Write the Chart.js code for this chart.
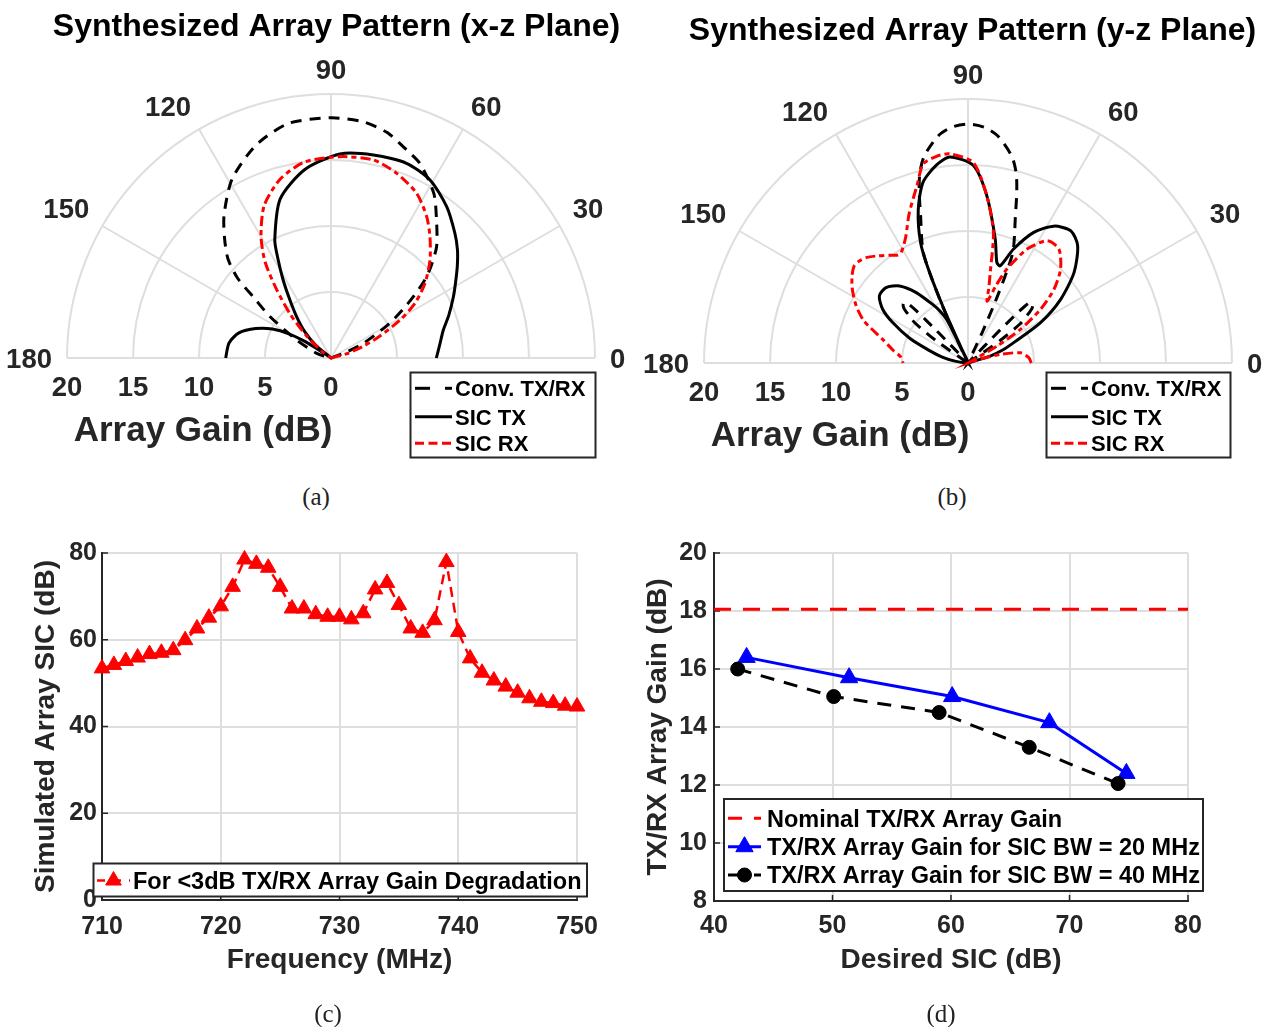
<!DOCTYPE html>
<html>
<head>
<meta charset="utf-8">
<script src="https://cdn.jsdelivr.net/npm/chart.js@4.4.1/dist/chart.umd.min.js"></script>
<style>
html,body{margin:0;padding:0;background:#fff;}
#wrap{position:relative;width:1265px;height:1027px;overflow:hidden;background:#fff;}
#wrap canvas{position:absolute;}
.cap{position:absolute;font-family:"Liberation Serif","Times New Roman",serif;font-size:25px;color:#222;transform:translate(-50%,-50%);line-height:1;}
</style>
</head>
<body>
<div id="wrap">
  <canvas id="chartA" width="632" height="470" style="left:0;top:0;width:632px;height:470px"></canvas>
  <canvas id="chartB" width="633" height="470" style="left:632px;top:0;width:633px;height:470px"></canvas>
  <canvas id="chartC" width="632" height="480" style="left:0;top:520px;width:632px;height:480px"></canvas>
  <canvas id="chartD" width="633" height="480" style="left:632px;top:520px;width:633px;height:480px"></canvas>
  <div class="cap" style="left:316px;top:496px">(a)</div>
  <div class="cap" style="left:952px;top:496px">(b)</div>
  <div class="cap" style="left:328px;top:1013px">(c)</div>
  <div class="cap" style="left:941px;top:1013px">(d)</div>
</div>
<script>
// ---------------- DATA ----------------
// Polar axes
const polarRings = [5, 10, 15, 20];
const polarSpokes = [0, 30, 60, 90, 120, 150, 180];
const polarRadialTicks = [20, 15, 10, 5, 0];
const polarMax = 20;

// (a) x-z plane: angle (deg) / array gain (dB)
const xzConvAngle = [0, 15, 21, 24.4, 30.5, 35, 39, 42, 46.5, 52.6, 58, 65.4, 70, 76, 82, 90, 100.3, 109.4, 118.9, 126.9, 131.9, 136.2, 139.5, 142, 145.8, 152.3, 162, 170, 180];
const xzConvGain  = [0, 0, 1.2, 2.69, 5.1, 7.0, 8.9, 10.1, 11.62, 13.16, 14.7, 16.2, 16.77, 17.6, 18.05, 18.2, 18.06, 17.1, 15.5, 13.5, 12.06, 10.8, 9.3, 7.4, 5.6, 2.95, 1.14, 0, 0];
const xzTxAngle = [0, 7, 14, 20, 26.6, 31, 35.9, 40.5, 45.2, 52.6, 60.9, 68.8, 78.2, 87.5, 98, 107.7, 115.4, 118, 121.5, 125, 129.7, 135, 140, 143, 146, 147.5, 150, 153.7, 158.6, 164.7, 171.6, 180];
const xzTxGain  = [7.98, 8.3, 8.77, 9.5, 10.37, 11.0, 11.81, 12.6, 13.32, 14.43, 15.43, 15.82, 15.71, 15.47, 14.4, 12.65, 9.93, 8.6, 6.95, 5.5, 4.08, 2.8, 1.5, 0, 1.0, 2.3, 3.67, 4.95, 6.12, 7.23, 7.81, 7.98];
const xzRxAngle = [0, 10, 15, 20, 24, 28.8, 33.1, 38.5, 44.7, 50.8, 55.9, 62.5, 70.4, 77.9, 87.4, 97.7, 105.8, 113.7, 120, 124.5, 128.5, 133, 138.5, 145, 155, 180];
const xzRxGain  = [0, 0, 1.2, 2.6, 4.0, 5.97, 7.59, 9.1, 10.55, 11.86, 12.93, 14.06, 14.85, 15.34, 15.27, 14.98, 14.1, 12.6, 10.6, 8.8, 6.6, 4.5, 2.3, 0.7, 0, 0];

// (b) y-z plane
const yzConvAngle = [0, 33, 35, 37, 39, 40.6, 42.5, 44.5, 45.3, 45.8, 46.2, 64, 65, 66, 67, 68, 70, 72, 74, 75.7, 78, 82.5, 86, 90, 94, 97.5, 102, 104.3, 106, 108, 110, 112, 113, 114, 115, 116, 133.8, 134.2, 134.7, 135.5, 137.5, 139.4, 141, 143, 145, 147, 180];
const yzConvGain  = [0, 0, 3.0, 5.0, 5.8, 6.4, 6.65, 6.5, 5.5, 3.5, 0, 0, 2.5, 5.0, 7.5, 9.1, 10.3, 11.6, 13.4, 14.8, 16.0, 17.35, 17.9, 18.1, 17.9, 17.35, 16.0, 14.8, 13.4, 11.6, 10.3, 9.1, 7.5, 5.0, 2.5, 0, 0, 3.5, 5.5, 6.5, 6.65, 6.4, 5.8, 5.0, 3.0, 0, 0];
const yzTxAngle = [0, 14, 17.2, 20.5, 24, 29.1, 34.5, 40.5, 46.9, 52.1, 57.9, 63.3, 68.2, 71.7, 74, 77.6, 83.6, 88.5, 95, 99, 104, 108, 111.5, 113, 114, 114.5, 115.2, 116.2, 118.5, 120.8, 126.3, 131.6, 137.4, 142.9, 147.8, 151.7, 157, 162, 167, 172, 177, 180];
const yzTxGain  = [0, 0, 1.76, 2.8, 3.79, 6.29, 8.52, 10.57, 12.16, 12.69, 12.24, 11.08, 9.3, 7.75, 7.93, 9.61, 12.76, 14.98, 15.66, 15.2, 14.1, 12.2, 9.8, 7.5, 4.5, 0, 2.0, 3.69, 4.5, 5.1, 6.62, 7.81, 8.44, 8.42, 7.64, 6.5, 4.8, 3.1, 2.0, 1.0, 0.3, 0];
const yzRxAngle = [0, 5, 11, 14.9, 18, 21, 29, 30.3, 32.7, 36.5, 40.6, 45.4, 51.4, 57, 62.6, 67.5, 70, 72.8, 74.5, 76.2, 79, 83.6, 88.5, 94.9, 98.5, 102.7, 106, 111.4, 116.5, 121.1, 123, 126, 130, 134, 137, 139.5, 143, 147.5, 153, 158, 164.5, 170, 175, 180];
const yzRxGain  = [4.8, 4.62, 4.05, 2.53, 1.0, 0, 0, 2.54, 4.72, 6.84, 8.58, 9.99, 11.04, 11.04, 9.72, 7.7, 6.3, 4.9, 5.9, 7.06, 10.09, 12.76, 15.2, 15.9, 15.85, 15.45, 14.0, 12.2, 10.6, 9.79, 9.75, 10.1, 10.6, 11.1, 11.3, 11.34, 11.0, 10.39, 9.5, 8.5, 6.71, 5.8, 5.1, 4.92];

// (c) simulated array SIC vs frequency
const freqMHz = [710, 711, 712, 713, 714, 715, 716, 717, 718, 719, 720, 721, 722, 723, 724, 725, 726, 727, 728, 729, 730, 731, 732, 733, 734, 735, 736, 737, 738, 739, 740, 741, 742, 743, 744, 745, 746, 747, 748, 749, 750];
const simSIC  = [53.4, 54.2, 55.1, 55.9, 56.7, 57.0, 57.6, 59.9, 62.6, 65.1, 67.7, 72.2, 78.5, 77.5, 76.6, 72.2, 67.2, 67.2, 65.9, 65.3, 65.3, 64.7, 66.1, 71.6, 73.1, 68.0, 62.6, 61.6, 64.5, 77.9, 61.8, 55.7, 52.4, 50.6, 49.2, 47.8, 46.5, 45.7, 45.4, 44.8, 44.6];

// (d) array gain vs desired SIC
const nominalSIC = [40, 80];
const nominalGain = [18.06, 18.06];
const bw20SIC  = [42.75, 51.4, 60.1, 68.3, 74.8];
const bw20Gain = [16.4, 15.7, 15.05, 14.15, 12.4];
const bw40SIC  = [42.0, 50.1, 59.0, 66.6, 74.1];
const bw40Gain = [16.0, 15.05, 14.5, 13.3, 12.05];

// ---------------- HELPERS ----------------
const FAM = "'Liberation Sans', Arial, Helvetica, sans-serif";
Chart.defaults.font.family = FAM;
const fnt = (size) => `bold ${size}px ${FAM}`;
const GRID = '#dedede';
const AXIS = '#262626';

function polarPoints(angles, gains) {
  return angles.map((a, i) => ({ x: gains[i] * Math.cos(a * Math.PI / 180), y: gains[i] * Math.sin(a * Math.PI / 180) }));
}
function xyPoints(xs, ys) { return xs.map((x, i) => ({ x: x, y: ys[i] })); }

function drawMarker(ctx, style, x, y, r, color) {
  ctx.save();
  ctx.setLineDash([]);
  ctx.fillStyle = color; ctx.strokeStyle = color; ctx.lineWidth = 1;
  ctx.beginPath();
  if (style === 'triangle') {
    ctx.moveTo(x, y - r); ctx.lineTo(x + r * 0.866, y + r / 2); ctx.lineTo(x - r * 0.866, y + r / 2); ctx.closePath();
  } else {
    ctx.arc(x, y, r, 0, Math.PI * 2);
  }
  ctx.fill(); ctx.stroke();
  ctx.restore();
}

function drawLegend(ctx, L) {
  ctx.save();
  ctx.fillStyle = '#fff';
  ctx.fillRect(L.x, L.y, L.w, L.h);
  ctx.strokeStyle = AXIS; ctx.lineWidth = 2; ctx.setLineDash([]);
  ctx.strokeRect(L.x, L.y, L.w, L.h);
  L.entries.forEach((e, i) => {
    const y = L.rows[i];
    ctx.strokeStyle = e.color; ctx.lineWidth = e.width;
    ctx.setLineDash(e.dash);
    ctx.beginPath(); ctx.moveTo(L.x0, y); ctx.lineTo(L.x1, y); ctx.stroke();
    ctx.setLineDash([]);
    if (e.marker) drawMarker(ctx, e.marker, (L.x0 + L.x1) / 2, y, e.mr, e.color);
    ctx.fillStyle = '#000'; ctx.font = fnt(L.size); ctx.textAlign = 'left'; ctx.textBaseline = 'alphabetic';
    ctx.fillText(e.label, L.tx, y + 0.358 * L.size);
  });
  ctx.restore();
}

// ---------------- POLAR PLUGIN ----------------
const polarPlugin = {
  id: 'polarDecor',
  beforeDatasetsDraw(chart) {
    const ctx = chart.ctx, xs = chart.scales.x, ys = chart.scales.y;
    const cx = xs.getPixelForValue(0), cy = ys.getPixelForValue(0), k = xs.getPixelForValue(1) - cx;
    ctx.save();
    ctx.strokeStyle = GRID; ctx.lineWidth = 2;
    polarRings.forEach(r => { ctx.beginPath(); ctx.arc(cx, cy, r * k, Math.PI, 2 * Math.PI); ctx.stroke(); });
    polarSpokes.forEach(a => {
      const t = a * Math.PI / 180;
      ctx.beginPath(); ctx.moveTo(cx, cy); ctx.lineTo(cx + polarMax * k * Math.cos(t), cy - polarMax * k * Math.sin(t)); ctx.stroke();
    });
    ctx.restore();
  },
  afterDraw(chart, args, o) {
    const ctx = chart.ctx, xs = chart.scales.x, ys = chart.scales.y;
    const cx = xs.getPixelForValue(0), cy = ys.getPixelForValue(0), k = xs.getPixelForValue(1) - cx;
    ctx.save();
    const fs = 27.5, cap = 0.716 * fs;
    ctx.font = fnt(fs); ctx.fillStyle = AXIS; ctx.textAlign = 'center'; ctx.textBaseline = 'alphabetic';
    polarSpokes.forEach(a => {
      const t = a * Math.PI / 180, s = String(a), w = ctx.measureText(s).width;
      const c = Math.cos(t), sn = Math.sin(t);
      const d = polarMax * k + 14;
      const sx = Math.abs(c) < 0.01 ? 0 : Math.sign(c);
      const sy = Math.abs(sn) < 0.01 ? 0 : 1;
      const px = cx + d * c + sx * (w / 2 + 1);
      const py = cy - d * sn - sy * (cap / 2 + 1);
      ctx.fillText(s, px, py + cap / 2);
    });
    polarRadialTicks.forEach(r => ctx.fillText(String(r), cx - r * k, cy + 28 + cap / 2));
    ctx.font = fnt(35);
    ctx.fillText('Array Gain (dB)', cx - 128, cy + 70 + 0.358 * 35);
    ctx.fillStyle = '#000'; ctx.font = fnt(32);
    ctx.fillText(o.title, o.titleX, o.titleY);
    ctx.restore();
    drawLegend(ctx, o.legend);
  }
};

const polarLegendEntries = [
  { label: 'Conv. TX/RX', color: '#000000', dash: [15, 15], width: 3 },
  { label: 'SIC TX', color: '#000000', dash: [], width: 3 },
  { label: 'SIC RX', color: '#ff0000', dash: [9, 4.5], width: 3 }
];

function polarChart(id, pad, conv, tx, rx, decor) {
  const base = { showLine: true, pointRadius: 0, borderWidth: 3, clip: false, fill: false, tension: 0.25 };
  return new Chart(document.getElementById(id), {
    type: 'scatter',
    data: {
      datasets: [
        Object.assign({ label: 'SIC RX', data: rx, borderColor: '#ff0000', borderDash: [10, 4, 5, 4] }, base),
        Object.assign({ label: 'SIC TX', data: tx, borderColor: '#000000' }, base),
        Object.assign({ label: 'Conv. TX/RX', data: conv, borderColor: '#000000', borderDash: [11, 8] }, base)
      ]
    },
    options: {
      responsive: false, animation: false, events: [],
      layout: { padding: pad },
      scales: {
        x: { type: 'linear', min: -polarMax, max: polarMax, display: false },
        y: { type: 'linear', min: 0, max: polarMax, display: false }
      },
      plugins: { legend: { display: false }, tooltip: { enabled: false }, polarDecor: decor }
    },
    plugins: [polarPlugin]
  });
}

polarChart('chartA', { left: 67, right: 37, top: 94, bottom: 112 },
  polarPoints(xzConvAngle, xzConvGain), polarPoints(xzTxAngle, xzTxGain), polarPoints(xzRxAngle, xzRxGain),
  { title: 'Synthesized Array Pattern (x-z Plane)', titleX: 336.5, titleY: 35.5,
    legend: { x: 410.5, y: 372.5, w: 185, h: 85, rows: [388.3, 416.7, 443.3], x0: 415, x1: 452, tx: 455, size: 22, entries: polarLegendEntries } });

polarChart('chartB', { left: 72, right: 33, top: 99, bottom: 107 },
  polarPoints(yzConvAngle, yzConvGain), polarPoints(yzTxAngle, yzTxGain), polarPoints(yzRxAngle, yzRxGain),
  { title: 'Synthesized Array Pattern (y-z Plane)', titleX: 340.5, titleY: 39.5,
    legend: { x: 414.5, y: 372.5, w: 184, h: 85, rows: [388.3, 416.7, 443.3], x0: 419, x1: 456, tx: 459, size: 22, entries: polarLegendEntries } });

// ---------------- CARTESIAN PLUGIN ----------------
const cartPlugin = {
  id: 'cartDecor',
  beforeDatasetsDraw(chart) {
    const ctx = chart.ctx, xs = chart.scales.x, ys = chart.scales.y, a = chart.chartArea;
    ctx.save(); ctx.strokeStyle = AXIS; ctx.lineWidth = 1.5;
    xs.ticks.forEach(t => { const p = xs.getPixelForValue(t.value); ctx.beginPath(); ctx.moveTo(p, a.bottom); ctx.lineTo(p, a.bottom - 6); ctx.stroke(); });
    ys.ticks.forEach(t => { const p = ys.getPixelForValue(t.value); ctx.beginPath(); ctx.moveTo(a.left, p); ctx.lineTo(a.left + 6, p); ctx.stroke(); });
    ctx.restore();
  },
  afterDraw(chart, args, o) { drawLegend(chart.ctx, o.legend); }
};

function cartScales(xmin, xmax, xstep, ymin, ymax, ystep, xTitle, yTitle, yWidth, xHeight, yPad, yTitlePad, xPad) {
  const tickFont = { size: 25, weight: 'bold' };
  const titleFont = { size: 28, weight: 'bold' };
  return {
    x: { type: 'linear', min: xmin, max: xmax,
      afterFit: s => { s.height = xHeight; },
      ticks: { stepSize: xstep, font: tickFont, color: AXIS, padding: xPad, maxRotation: 0, autoSkip: false },
      grid: { color: GRID, lineWidth: 2, drawTicks: false },
      border: { display: true, color: AXIS, width: 2 },
      title: { display: true, text: xTitle, font: titleFont, color: AXIS, padding: { top: 0, bottom: 23 } } },
    y: { type: 'linear', min: ymin, max: ymax,
      afterFit: s => { s.width = yWidth; },
      ticks: { stepSize: ystep, font: tickFont, color: AXIS, padding: yPad },
      grid: { color: GRID, lineWidth: 2, drawTicks: false },
      border: { display: true, color: AXIS, width: 2 },
      title: { display: true, text: yTitle, font: titleFont, color: AXIS, padding: { top: yTitlePad, bottom: 0 } } }
  };
}

// (c)
new Chart(document.getElementById('chartC'), {
  type: 'line',
  data: { datasets: [{
    label: 'For <3dB TX/RX Array Gain Degradation',
    data: xyPoints(freqMHz, simSIC),
    borderColor: '#ff0000', backgroundColor: '#ff0000', borderWidth: 2.5, borderDash: [10, 6],
    pointStyle: 'triangle', pointRadius: 9, pointBackgroundColor: '#ff0000', pointBorderColor: '#ff0000', pointBorderWidth: 1,
    tension: 0, clip: false, fill: false
  }]},
  options: {
    responsive: false, animation: false, events: [],
    layout: { padding: { left: 0, right: 55, top: 33, bottom: 0 } },
    scales: cartScales(710, 750, 10, 0, 80, 20, 'Frequency (MHz)', 'Simulated Array SIC (dB)', 102, 100, 5, 29.7, 12),
    plugins: { legend: { display: false }, tooltip: { enabled: false },
      cartDecor: { legend: { x: 93.5, y: 343.5, w: 493.5, h: 33, rows: [360.5], x0: 97, x1: 130, tx: 133, size: 23.5,
        entries: [{ label: 'For <3dB TX/RX Array Gain Degradation', color: '#ff0000', dash: [8, 8], width: 2.5, marker: 'triangle', mr: 9 }] } } }
  },
  plugins: [cartPlugin]
});

// (d)
new Chart(document.getElementById('chartD'), {
  type: 'line',
  data: { datasets: [
    { label: 'TX/RX Array Gain for SIC BW = 40 MHz', data: xyPoints(bw40SIC, bw40Gain),
      borderColor: '#000000', backgroundColor: '#000000', borderWidth: 3, borderDash: [14, 10],
      pointStyle: 'circle', pointRadius: 7, pointBackgroundColor: '#000000', pointBorderColor: '#000000', pointBorderWidth: 1,
      tension: 0, clip: false, fill: false },
    { label: 'TX/RX Array Gain for SIC BW = 20 MHz', data: xyPoints(bw20SIC, bw20Gain),
      borderColor: '#0000ff', backgroundColor: '#0000ff', borderWidth: 3,
      pointStyle: 'triangle', pointRadius: 10, pointBackgroundColor: '#0000ff', pointBorderColor: '#0000ff', pointBorderWidth: 1,
      tension: 0, clip: false, fill: false },
    { label: 'Nominal TX/RX Array Gain', data: xyPoints(nominalSIC, nominalGain),
      borderColor: '#ff0000', borderWidth: 3, borderDash: [17, 12], pointRadius: 0, tension: 0, clip: false, fill: false }
  ]},
  options: {
    responsive: false, animation: false, events: [],
    layout: { padding: { left: 0, right: 77, top: 33, bottom: 0 } },
    scales: cartScales(40, 80, 10, 8, 20, 2, 'Desired SIC (dB)', 'TX/RX Array Gain (dB)', 82, 99, 7, 9.8, 10.5),
    plugins: { legend: { display: false }, tooltip: { enabled: false },
      cartDecor: { legend: { x: 92, y: 279, w: 479, h: 92, rows: [298.3, 326.7, 355], x0: 96, x1: 129, tx: 135, size: 23.5,
        entries: [
          { label: 'Nominal TX/RX Array Gain', color: '#ff0000', dash: [14, 12], width: 3 },
          { label: 'TX/RX Array Gain for SIC BW = 20 MHz', color: '#0000ff', dash: [], width: 3, marker: 'triangle', mr: 10 },
          { label: 'TX/RX Array Gain for SIC BW = 40 MHz', color: '#000000', dash: [14, 12], width: 3, marker: 'circle', mr: 7 }
        ] } } }
  },
  plugins: [cartPlugin]
});
</script>
</body>
</html>
